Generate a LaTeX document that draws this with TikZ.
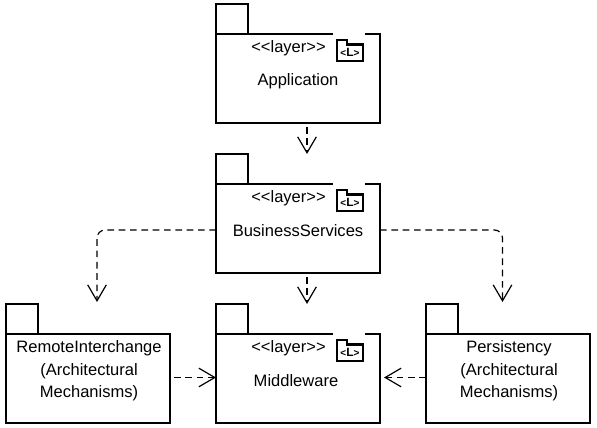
\documentclass[tikz,border=0pt]{standalone}
\usepackage{fontspec}
\setmainfont{Liberation Sans}
\usetikzlibrary{arrows.meta, positioning}
\newcommand{\stereo}{{<}{<}layer{>}{>}}
\tikzset{
  pkgbody/.style={draw, line width=0.9pt, minimum width=123pt, minimum height=66.75pt, inner sep=0pt, outer sep=0pt},
  pkgtab/.style={draw, line width=0.9pt, minimum width=24pt, minimum height=22.5pt, inner sep=0pt, outer sep=0pt, anchor=south west},
  pkgtext/.style={font=\fontsize{12.4}{16.8}\selectfont, align=center, inner sep=0pt},
  dep/.style={draw, line width=0.9pt, dash pattern=on 5pt off 3.5pt, rounded corners=6pt,
    -{Straight Barb[length=12pt, width=14pt, line width=0.9pt]}},
  layericon/.pic={
    \draw[white, line width=1pt] (-4,-6) -- (28,-6);
    \draw[line width=1.6pt, fill=white] (0,0) -- (0,21) -- (26,21) -- (26,4.5) -- (10,4.5) -- (10,0) -- cycle;
    \node[font=\fontsize{7.5}{7.5}\selectfont\bfseries, inner sep=0pt] (-iconlabel) at (13,12.5) {{<}\fontsize{9}{9}\selectfont L\fontsize{7.5}{7.5}\selectfont{>}};
  }
}
\begin{document}
\begin{tikzpicture}[x=0.75pt, y=-0.75pt]
    \useasboundingbox (0,0) rectangle (597,428);
    % application
    \node[pkgbody] (app) at (298,78.5) {};
    \node[pkgtab] (apptab) at (app.north west) {};
    \node[pkgtext] (appstereo) at (288.5,48) {\stereo};
    \node[pkgtext] (appname) at (298,81) {Application};
    \pic (appicon) at (337,40) {layericon};
    % business services
    \node[pkgbody] (biz) at (298,228.5) {};
    \node[pkgtab] (biztab) at (biz.north west) {};
    \node[pkgtext] (bizstereo) at (288.5,198) {\stereo};
    \node[pkgtext] (bizname) at (298,231) {BusinessServices};
    \pic (bizicon) at (337,190) {layericon};
    % middleware
    \node[pkgbody] (mid) at (298,378.5) {};
    \node[pkgtab] (midtab) at (mid.north west) {};
    \node[pkgtext] (midstereo) at (288.5,348) {\stereo};
    \node[pkgtext] (midname) at (296,381) {Middleware};
    \pic (midicon) at (337,340) {layericon};
    % remote interchange
    \node[pkgbody] (remote) at (88,378.5) {};
    \node[pkgtab] (remotetab) at (remote.north west) {};
    \node[pkgtext] (remotename) at (89,371) {RemoteInterchange\\(Architectural\\Mechanisms)};
    % persistency
    \node[pkgbody] (pers) at (508,378.5) {};
    \node[pkgtab] (perstab) at (pers.north west) {};
    \node[pkgtext] (persname) at (509,371) {Persistency\\(Architectural\\Mechanisms)};
    % dependencies
    \coordinate (bizleft) at (97,230);
    \coordinate (bizright) at (502.5,230);
    \draw[dep, shorten <=3pt] ([xshift=6.75pt]app.south) -- ([xshift=6.75pt]app.south |- biztab.north);
    \draw[dep, shorten <=3pt] ([xshift=6.75pt]biz.south) -- ([xshift=6.75pt]biz.south |- midtab.north);
    \draw[dep, shorten >=1.5pt] (biz.west |- bizleft) -- (bizleft) -- (bizleft |- remotetab.north);
    \draw[dep, shorten >=1.5pt] (biz.east |- bizright) -- (bizright) -- (bizright |- perstab.north);
    \draw[dep, shorten <=3pt] ([yshift=0.75pt]remote.east) -- ([yshift=0.75pt]mid.west);
    \draw[dep, shorten >=3pt] ([yshift=0.75pt]pers.west) -- ([yshift=0.75pt]mid.east);
  \end{tikzpicture}
\end{document}
